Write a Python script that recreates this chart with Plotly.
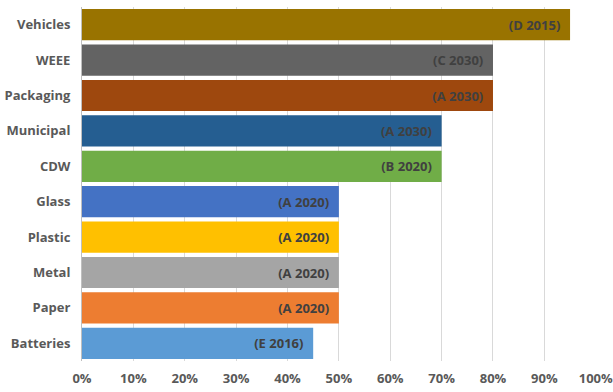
import plotly.graph_objects as go

categories = ["Vehicles", "WEEE", "Packaging", "Municipal", "CDW", "Glass", "Plastic", "Metal", "Paper", "Batteries"]
values = [0.95, 0.80, 0.80, 0.70, 0.70, 0.50, 0.50, 0.50, 0.50, 0.45]
labels = ["(D 2015)", "(C 2030)", "(A 2030)", "(A 2030)", "(B 2020)", "(A 2020)", "(A 2020)", "(A 2020)", "(A 2020)", "(E 2016)"]
colors = ["#997300", "#636363", "#9E480E", "#255E91", "#70AD47", "#4472C4", "#FFC000", "#A5A5A5", "#ED7D31", "#5B9BD5"]
xticks = [0, 0.1, 0.2, 0.3, 0.4, 0.5, 0.6, 0.7, 0.8, 0.9, 1.0]
xticktext = ["0%", "10%", "20%", "30%", "40%", "50%", "60%", "70%", "80%", "90%", "100%"]

fig = go.Figure(go.Bar(
    y=categories, x=values, orientation="h",
    marker=dict(color=colors, line=dict(width=0)),
    text=[l + "  " for l in labels], textposition="inside", insidetextanchor="end",
    textfont=dict(family="Open Sans", size=13, color="#404040", weight="bold"),
    textangle=0,
))
fig.update_layout(
    width=613, height=392,
    margin=dict(l=82, r=17, t=7, b=31),
    plot_bgcolor="white", paper_bgcolor="white",
    bargap=0.12, showlegend=False,
    font=dict(family="Open Sans", size=12, color="#595959"),
)
fig.update_xaxes(range=[0, 1.0005], tickvals=xticks, ticktext=xticktext,
                 showgrid=True, gridcolor="#D9D9D9", gridwidth=1, zeroline=False,
                 ticklabeloverflow="allow", automargin=False,
                 tickfont=dict(size=13, weight="bold", color="#595959"), ticks="", ticklabelstandoff=8)
fig.update_yaxes(autorange="reversed", showline=True, linecolor="#BFBFBF", ticks="",
                 automargin=False,
                 tickfont=dict(size=13, weight="bold", color="#595959"), ticklabelstandoff=8)
fig.write_html("out.html")
